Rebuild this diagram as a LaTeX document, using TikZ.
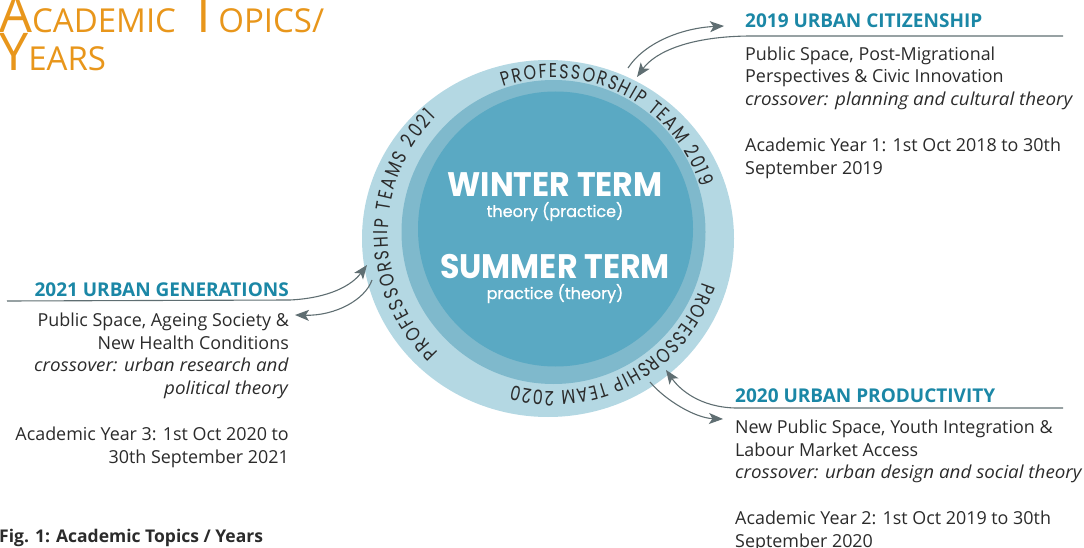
\documentclass[tikz,border=0pt]{standalone}
\usepackage{fontspec}
\setmainfont{Open Sans}[ItalicFeatures={FakeStretch=1.05}]
\newfontfamily\subfont[FakeBold=0.8]{Poppins}
\newfontfamily\ringfont[FakeStretch=0.8]{Poppins}
\newfontfamily\termfont[FakeStretch=0.93]{Poppins}
\usetikzlibrary{arrows.meta,decorations.text,shapes.geometric}
\definecolor{ringout}{HTML}{B4D8E3}
\definecolor{ringmid}{HTML}{7FB9CC}
\definecolor{ringin}{HTML}{5AA9C3}
\definecolor{titleor}{HTML}{E8961B}
\definecolor{headblue}{HTML}{1B87A6}
\definecolor{bodytxt}{HTML}{2B2B2B}
\definecolor{arrowgr}{HTML}{5F6E72}
\tikzset{
  conn/.style={draw=arrowgr, line width=1.1pt, -{Stealth[length=14pt,width=11pt,inset=3.5pt]}},
  headtxt/.style={font=\bfseries\fontsize{19}{19}\selectfont, text=headblue, inner sep=0pt},
  bodytxt/.style={font=\fontsize{17.9}{22.8}\selectfont, text=bodytxt, inner sep=0pt},
  termtxt/.style={font=\termfont\bfseries\fontsize{34}{34}\selectfont, text=white, inner sep=0pt},
  subtxt/.style={font=\subfont\fontsize{16}{16}\selectfont, text=white, inner sep=0pt},
}
\begin{document}
\begin{tikzpicture}[x=1pt,y=1pt]
\useasboundingbox (0,0) rectangle (1084,-548);

% rings
\node[ellipse, fill=ringout, minimum width=372pt, minimum height=357pt, inner sep=0pt] (outer) at (548,-238.5) {};
\node[circle, fill=ringmid, minimum size=304pt, inner sep=0pt] (mid) at (553.5,-232) {};
\node[circle, fill=ringin, minimum size=275pt, inner sep=0pt] (inner) at (555.5,-229) {};

% centre texts
\node[termtxt] (winter) at (555,-185) {WINTER TERM};
\node[subtxt, anchor=base] (wsub) at (555,-217) {theory (practice)};
\node[termtxt] (summer) at (555,-267) {SUMMER TERM};
\node[subtxt, anchor=base] (ssub) at (555,-299) {practice (theory)};

% ring texts
\path[decorate, decoration={text along path, text align={fit to path},
  text={|\color{bodytxt}\ringfont\fontsize{20}{20}\selectfont|PROFESSORSHIP TEAM 2019}}]
  ([shift={(109:154)}]553,-232) arc[start angle=109, end angle=17, radius=154];
\path[decorate, decoration={text along path, text align={fit to path},
  text={|\color{bodytxt}\ringfont\fontsize{20}{20}\selectfont|PROFESSORSHIP TEAM 2020}}]
  ([shift={(-18:157)}]553,-234) arc[start angle=-18, end angle=-105, radius=157];
\path[decorate, decoration={text along path, text align={fit to path},
  text={|\color{bodytxt}\ringfont\fontsize{20}{20}\selectfont|PROFESSORSHIP TEAMS 2021}}]
  ([shift={(226:165)}]553,-234) arc[start angle=226, end angle=135, radius=165];

% title
\node[anchor=north west, inner sep=0pt, align=left, text=titleor, font=\fontsize{52}{36}\selectfont] (title) at (-1,5)
  {A{\fontsize{33}{36}\selectfont CADEMIC} T{\fontsize{33}{36}\selectfont OPICS/}\\
   Y{\fontsize{33}{36}\selectfont EARS}};

% 2019 block
\node[headtxt, anchor=base west] (h19) at (745,-28) {2019 URBAN CITIZENSHIP};
\node[bodytxt, anchor=north west, align=left] (b19) at (745,-46.4)
  {Public Space, Post-Migrational\\
   Perspectives \& Civic Innovation\\
   \textit{crossover: planning and cultural theory}\\[22.8pt]
   Academic Year 1: 1st Oct 2018 to 30th\\
   September 2019};

% 2021 block
\node[headtxt, anchor=base east] (h21) at (289,-296) {2021 URBAN GENERATIONS};
\node[bodytxt, anchor=north east, align=right] (b21) at (289,-312.4)
  {Public Space, Ageing Society \&\\
   New Health Conditions\\
   \textit{crossover: urban research and}\\
   \textit{political theory}\\[22.8pt]
   Academic Year 3: 1st Oct 2020 to\\
   30th September 2021};

% 2020 block
\node[headtxt, anchor=base west] (h20) at (735,-402) {2020 URBAN PRODUCTIVITY};
\node[bodytxt, anchor=north west, align=left] (b20) at (735,-419.4)
  {New Public Space, Youth Integration \&\\
   Labour Market Access\\
   \textit{crossover: urban design and social theory}\\[22.8pt]
   Academic Year 2: 1st Oct 2019 to 30th\\
   September 2020};

% caption
\node[anchor=base west, inner sep=0pt, font=\bfseries\fontsize{17.5}{17.5}\selectfont, text=bodytxt] (cap) at (-1,-542)
  {Fig. 1: Academic Topics / Years};

% connector coordinates
\coordinate (a19out) at (628,-68);
\coordinate (a19tip) at (724,-26);
\coordinate (r19end) at (1063,-36);
\coordinate (r19bend) at (752,-36);
\coordinate (a19in) at (637,-77);

\coordinate (r21end) at (7,-301);
\coordinate (r21bend) at (290,-300);
\coordinate (a21in) at (367,-265);
\coordinate (a21out) at (372,-280);
\coordinate (a21tip) at (295,-315);

\coordinate (r20end) at (1063,-408);
\coordinate (r20bend) at (735,-408);
\coordinate (a20in) at (666,-370);
\coordinate (a20out) at (650,-382);
\coordinate (a20tip) at (723,-419);

% connectors
\draw[conn] (a19out) .. controls (645,-42) and (683,-28) .. (a19tip);
\draw[conn] (r19end) -- (r19bend) .. controls (690,-36) and (655,-52) .. (a19in);

\draw[conn] (r21end) -- (r21bend) .. controls (330,-298) and (352,-285) .. (a21in);
\draw[conn] (a21out) .. controls (365,-300) and (335,-316) .. (a21tip);

\draw[conn] (r20end) -- (r20bend) .. controls (700,-407) and (680,-390) .. (a20in);
\draw[conn] (a20out) .. controls (665,-400) and (695,-418) .. (a20tip);
\end{tikzpicture}
\end{document}
